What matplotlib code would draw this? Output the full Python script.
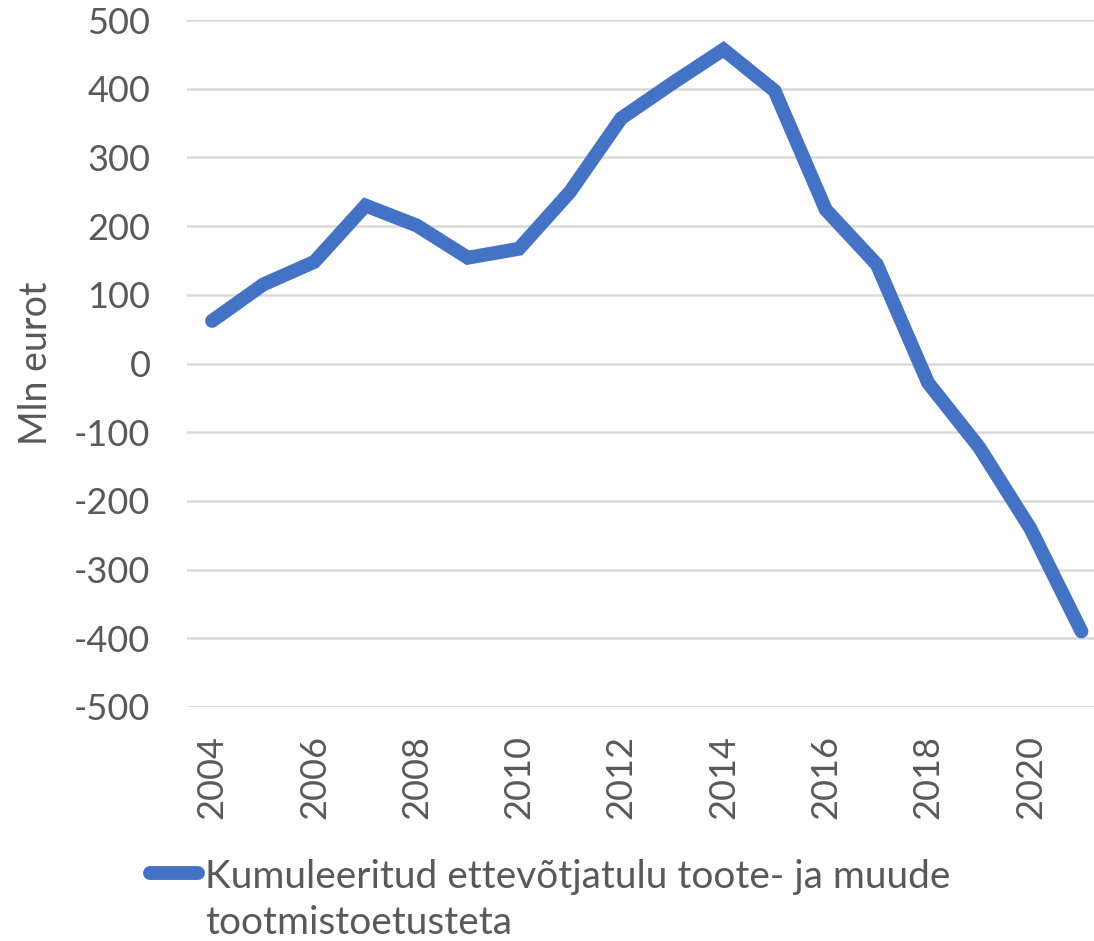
import numpy as np
import matplotlib.pyplot as plt
from matplotlib.lines import Line2D

# data
years = list(range(2004, 2022))
values = [62, 115, 148, 230, 201, 154, 167, 250, 357, 408,
          457, 397, 224, 144, -28, -122, -240, -390]
series_label = "Kumuleeritud ettevõtjatulu toote- ja muude\ntootmistoetusteta"
y_ticks = [-500, -400, -300, -200, -100, 0, 100, 200, 300, 400, 500]

plt.rcParams['font.family'] = ['Lato', 'DejaVu Sans']
txt_color = '#595959'
line_color = '#4472C4'

W, H = 1094, 941
fig = plt.figure(figsize=(W / 100, H / 100), dpi=100)
ax = fig.add_axes([0.1705, 0.2487, 0.8414, 0.7300])

x = np.arange(len(years))
ax.plot(x, values, color=line_color, lw=10, solid_capstyle='round',
        solid_joinstyle='miter', zorder=3)

ax.set_xlim(-0.5, len(years) - 0.5)
ax.set_ylim(-500, 500)
ax.set_yticks(y_ticks)
ax.set_yticklabels([str(v) for v in y_ticks])
ax.set_xticks(x[::2])
ax.set_xticklabels([str(y) for y in years[::2]], rotation=90)

ax.grid(axis='y', color='#d9d9d9', lw=1.8)
ax.set_axisbelow(True)
for s in ax.spines.values():
    s.set_visible(False)
ax.tick_params(axis='both', length=0, labelsize=26, labelcolor=txt_color)
ax.tick_params(axis='y', pad=26)
ax.tick_params(axis='x', pad=20)

ax.set_ylabel('Mln eurot', fontsize=27, color=txt_color)
ax.yaxis.set_label_coords(-0.144, 0.5)

# legend drawn by hand so the handle sits next to the first text line
handle = Line2D([150 / W, 198 / W], [1 - 873 / H, 1 - 873 / H],
                transform=fig.transFigure, color=line_color, lw=10,
                solid_capstyle='round')
fig.add_artist(handle)
# baseline alignment refers to the last line of the text
fig.text(205 / W, 1 - 934 / H, series_label, fontsize=28, color=txt_color,
         ha='left', va='baseline', linespacing=1.36)

fig.savefig('out.png', dpi=100)
